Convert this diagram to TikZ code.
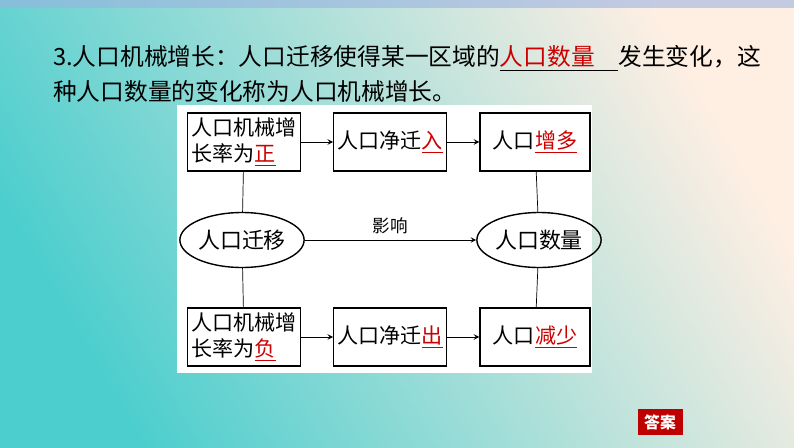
\documentclass[tikz,border=0pt]{standalone}
\usepackage{fontspec}
\setmainfont{Liberation Serif}
\newfontfamily\cjk{Noto Sans CJK SC}
\usetikzlibrary{shapes.geometric,positioning}
\begin{document}
\begin{tikzpicture}
[x=0.02cm,y=-0.02cm,>=stealth,font=\cjk,
box/.style = {draw, thick, minimum width=2.2cm, minimum height=1.16cm, align=left, inner sep=2pt, font=\cjk\fontsize{12}{15}\selectfont},
oval/.style = {draw, thick, ellipse, minimum width=2.25cm, minimum height=1.1cm, inner sep=0pt, font=\cjk\fontsize{12.5}{15}\selectfont},
ans/.style = {text=red!80!black, font=\cjk\fontsize{14}{16}\selectfont}]
\newcommand{\ul}[1]{\textcolor{red!80!black}{\underline{#1}}}
\useasboundingbox (0,0) rectangle (794,447);
\shade[left color=teal!55!cyan!70, right color=yellow!15!pink!30, shading angle=120] (0,0) rectangle (794,447);
\fill[cyan!45!blue!40, opacity=.6] (0,0) rectangle (794,8);
% title
\node[anchor=west, font=\cjk\fontsize{13.5}{20}\selectfont, align=left] (title) at (47,74)
  {3.人口机械增长：人口迁移使得某一区域的\underline{\textcolor{red!80!black}{人口数量}\hspace{1em}}发生变化，这\\种人口数量的变化称为人口机械增长。};
% panel
\fill[white] (177,105) rectangle (592,373);
\node[box] (posrate) at (244,142) {人口机械增\\长率为\ul{正}};
\node[box] (netin) at (390,142) {人口净迁\ul{入}};
\node[box] (inc) at (535,142) {人口\ul{增多}};
\node[oval] (migr) at (242,240) {人口迁移};
\node[oval] (size) at (539,240) {人口数量};
\node[box] (negrate) at (244,337) {人口机械增\\长率为\ul{负}};
\node[box] (netout) at (390,337) {人口净迁\ul{出}};
\node[box] (dec) at (535,337) {人口\ul{减少}};
\draw[->] (posrate) -- (netin);
\draw[->] (netin) -- (inc);
\draw[->] (negrate) -- (netout);
\draw[->] (netout) -- (dec);
\draw[->] (migr) -- node[above, font=\cjk\fontsize{10}{12}\selectfont] (effect) {影响} (size);
\draw (posrate) -- (migr);
\draw (migr) -- (negrate);
\draw (inc) -- (size);
\draw (size) -- (dec);
% answer button
\node[fill=red!75!black, text=white, font=\cjk\fontsize{9}{10}\selectfont\bfseries, minimum width=0.9cm, minimum height=0.45cm] (answer) at (660,422) {答案};
\end{tikzpicture}
\end{document}
